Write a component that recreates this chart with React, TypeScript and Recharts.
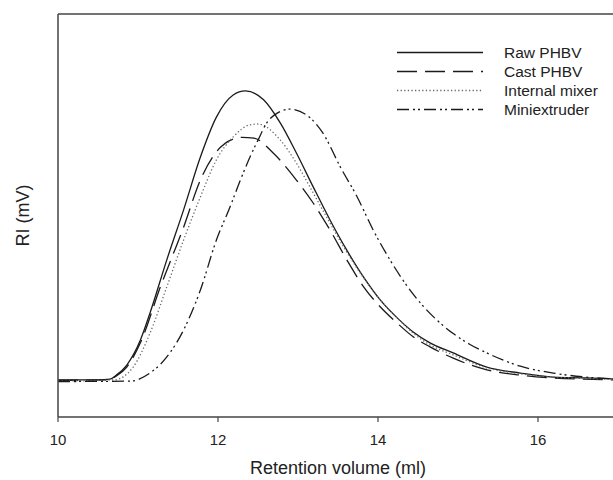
import { Legend, Line, LineChart, ReferenceLine, XAxis, YAxis } from 'recharts'

// retention volume (ml) -> RI signal (arbitrary, 0..100 of the frame)
const rawX = [10.0, 10.5, 10.65, 10.73, 10.86, 11.03, 11.15, 11.36, 11.57, 11.78, 11.98, 12.19, 12.34, 12.57, 12.78, 12.98, 13.19, 13.4, 13.61, 13.82, 14.03, 14.24, 14.44, 14.65, 14.94, 15.36, 15.78, 16.19, 16.6, 17.0]
const rawY = [9.2, 9.2, 9.4, 10.4, 12.9, 19.1, 25.8, 39.0, 51.4, 64.5, 74.4, 79.9, 80.9, 78.7, 72.9, 65.5, 57.1, 48.9, 41.4, 34.7, 29.0, 24.6, 21.1, 18.4, 15.9, 12.4, 10.9, 9.9, 9.7, 9.4]

const castX = [10.0, 10.6, 10.73, 10.86, 11.03, 11.28, 11.57, 11.78, 11.98, 12.19, 12.3, 12.45, 12.69, 12.98, 13.19, 13.4, 13.61, 13.82, 14.03, 14.24, 14.44, 14.65, 14.94, 15.36, 15.78, 16.19, 17.0]
const castY = [9.1, 9.2, 10.2, 12.4, 18.4, 32.3, 47.1, 58.8, 65.8, 69.0, 69.4, 69.2, 65.5, 58.8, 53.1, 46.4, 39.0, 32.3, 27.3, 23.3, 19.9, 17.4, 14.6, 11.7, 10.4, 9.7, 9.2]

const mixerX = [10.0, 10.7, 10.94, 11.15, 11.36, 11.57, 11.78, 11.98, 12.19, 12.4, 12.5, 12.78, 12.98, 13.19, 13.4, 13.61, 13.82, 14.03, 14.24, 14.44, 14.65, 14.94, 15.36, 15.78, 16.19, 17.0]
const mixerY = [8.9, 9.2, 12.4, 20.8, 32.3, 43.9, 54.6, 63.8, 69.5, 72.5, 72.7, 68.7, 63.0, 55.6, 48.1, 40.9, 34.5, 29.0, 24.6, 20.8, 17.9, 15.4, 12.2, 10.7, 9.9, 9.4]

const extruderX = [10.0, 10.9, 11.15, 11.36, 11.57, 11.78, 11.98, 12.15, 12.28, 12.4, 12.5, 12.61, 12.74, 12.9, 13.11, 13.31, 13.53, 13.74, 13.94, 14.15, 14.36, 14.56, 14.75, 14.94, 15.15, 15.36, 15.78, 16.19, 16.6, 17.0]
const extruderY = [8.8, 8.9, 10.9, 14.9, 21.6, 31.5, 43.9, 52.1, 58.8, 64.5, 68.7, 73.0, 75.4, 76.4, 74.9, 70.5, 62.0, 54.6, 46.4, 39.0, 32.6, 27.6, 23.8, 20.7, 18.0, 15.9, 12.6, 10.9, 9.9, 9.4]

const xTicks = [10, 12, 14, 16]

const zip = (xs: number[], ys: number[]) => xs.map((x, i) => ({ x, y: ys[i] }))

const SERIES = [
  { name: 'Raw PHBV', data: zip(rawX, rawY), color: '#1a1a1a', dash: undefined as string | undefined, width: 1.3 },
  { name: 'Cast PHBV', data: zip(castX, castY), color: '#1a1a1a', dash: '20 8', width: 1.3 },
  { name: 'Internal mixer', data: zip(mixerX, mixerY), color: '#6a6a6a', dash: '1.3 2.3', width: 1.3 },
  { name: 'Miniextruder', data: zip(extruderX, extruderY), color: '#1a1a1a', dash: '12 4 2 3 2 4', width: 1.3 },
]

const FONT = 'Arial, "Liberation Sans", sans-serif'
const AXIS = '#444'

function LegendBox() {
  return (
    <div style={{ fontFamily: FONT, fontSize: 15.5, color: '#222' }}>
      {SERIES.map((s) => (
        <div key={s.name} style={{ display: 'flex', alignItems: 'center', height: 19 }}>
          <svg width={86} height={19} style={{ display: 'block' }}>
            <line x1={0} x2={86} y1={9.5} y2={9.5} stroke={s.color} strokeWidth={s.width} strokeDasharray={s.dash} />
          </svg>
          <span style={{ marginLeft: 21, whiteSpace: 'nowrap' }}>{s.name}</span>
        </div>
      ))}
    </div>
  )
}

export default function App() {
  return (
    <div style={{ position: 'absolute', left: 0, top: 0, background: '#fff' }}>
      <LineChart width={613} height={480} margin={{ top: 14, right: 0, bottom: 0, left: 0 }}>
        <XAxis
          dataKey="x"
          type="number"
          domain={[10, 16.9375]}
          ticks={xTicks}
          allowDataOverflow
          height={63}
          tickSize={5}
          tickMargin={12}
          tick={{ fill: '#222', fontSize: 15, fontFamily: FONT }}
          axisLine={{ stroke: AXIS, strokeWidth: 1.5 }}
          tickLine={{ stroke: AXIS, strokeWidth: 1.2 }}
          label={{
            content: ({ viewBox }: any) => (
              <text x={viewBox.x + 280} y={viewBox.y + 57} textAnchor="middle" fontSize={18} fontFamily={FONT} fill="#222">
                Retention volume (ml)
              </text>
            ),
          }}
        />
        <YAxis
          type="number"
          domain={[0, 100]}
          width={58}
          tick={false}
          tickLine={false}
          axisLine={{ stroke: AXIS, strokeWidth: 1.5 }}
          label={{
            content: ({ viewBox }: any) => (
              <text
                x={viewBox.x + 23}
                y={viewBox.y + viewBox.height / 2}
                transform={`rotate(-90 ${viewBox.x + 23} ${viewBox.y + viewBox.height / 2})`}
                textAnchor="middle"
                dominantBaseline="central"
                fontSize={18}
                fontFamily={FONT}
                fill="#222"
              >
                RI (mV)
              </text>
            ),
          }}
        />
        <ReferenceLine y={100} stroke={AXIS} strokeWidth={1.5} />
        {SERIES.map((s) => (
          <Line
            key={s.name}
            data={s.data}
            dataKey="y"
            name={s.name}
            type="monotone"
            stroke={s.color}
            strokeWidth={s.width}
            strokeDasharray={s.dash}
            dot={false}
            activeDot={false}
            isAnimationActive={false}
          />
        ))}
        <Legend
          layout="vertical"
          align="center"
          verticalAlign="middle"
          wrapperStyle={{ position: 'absolute', left: 397, top: 43, width: 216, right: 'auto', bottom: 'auto' }}
          content={() => <LegendBox />}
        />
      </LineChart>
    </div>
  )
}
